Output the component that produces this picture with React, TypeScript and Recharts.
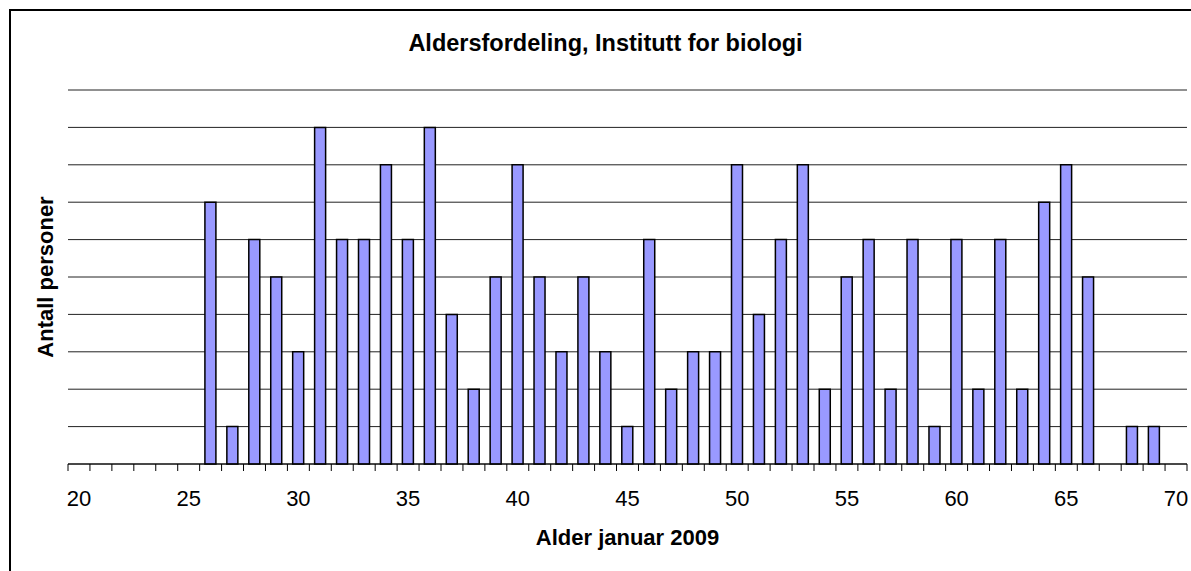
import { Bar, BarChart, CartesianGrid, Label, XAxis, YAxis } from "recharts";

const ages = [
  20, 21, 22, 23, 24, 25, 26, 27, 28, 29, 30, 31, 32, 33, 34, 35, 36, 37, 38, 39, 40, 41, 42, 43, 44, 45,
  46, 47, 48, 49, 50, 51, 52, 53, 54, 55, 56, 57, 58, 59, 60, 61, 62, 63, 64, 65, 66, 67, 68, 69, 70,
];
const persons = [
  0, 0, 0, 0, 0, 0, 7, 1, 6, 5, 3, 9, 6, 6, 8, 6, 9, 4, 2, 5, 8, 5, 3, 5, 3, 1,
  6, 2, 3, 3, 8, 4, 6, 8, 2, 5, 6, 2, 6, 1, 6, 2, 6, 2, 7, 8, 5, 0, 1, 1, 0,
];
const yTicks = [0, 1, 2, 3, 4, 5, 6, 7, 8, 9, 10];
const labelStep = 5;

const data = ages.map((age, i) => ({ age, persons: persons[i] }));

const font = "Arial, 'Liberation Sans', sans-serif";

// Excel-style category axis: tick marks sit between categories, labels every 5th age
function AgeTick(props: any) {
  const { x, y, payload, index, width } = props;
  const band = (width ?? 1119) / ages.length;
  const left = x - band / 2;
  return (
    <g>
      <line x1={left} y1={y} x2={left} y2={y + 7} stroke="#000" strokeWidth={1} />
      {index === ages.length - 1 && (
        <line x1={left + band} y1={y} x2={left + band} y2={y + 7} stroke="#000" strokeWidth={1} />
      )}
      {payload.value % labelStep === 0 && (
        <text x={x} y={y + 42} textAnchor="middle" fontSize={22} fontFamily={font} fill="#000">
          {payload.value}
        </text>
      )}
    </g>
  );
}

// y axis has no visible labels, but the ticks must still exist for the gridlines
function NoTick() {
  return <g />;
}

export default function App() {
  return (
    <div style={{ position: "relative", width: 1191, height: 571, overflow: "hidden", background: "#fff" }}>
      <style>{`body{margin:0;overflow:hidden}`}</style>
      <div
        style={{
          position: "absolute",
          left: 9,
          top: 9,
          width: 1300,
          height: 700,
          border: "2px solid #000",
        }}
      />
      <div
        style={{
          position: "absolute",
          left: 0,
          top: 32,
          width: 1211,
          textAlign: "center",
          fontFamily: font,
          fontSize: 23.5,
          fontWeight: 700,
          lineHeight: "23px",
          color: "#000",
        }}
      >
        Aldersfordeling, Institutt for biologi
      </div>
      <div style={{ position: "absolute", left: 0, top: 0 }}>
        <BarChart
          width={1191}
          height={571}
          data={data}
          margin={{ top: 90, right: 4, left: 0, bottom: 0 }}
          barCategoryGap="24%"
        >
          <CartesianGrid vertical={false} stroke="#222" strokeWidth={1} />
          <XAxis
            dataKey="age"
            interval={0}
            height={107}
            tickSize={0}
            tickMargin={0}
            axisLine={{ stroke: "#000", strokeWidth: 1 }}
            tick={<AgeTick />}
          >
            <Label
              value="Alder januar 2009"
              position="insideBottom"
              offset={26}
              style={{ fontSize: 22, fontWeight: 700, fill: "#000", fontFamily: font }}
            />
          </XAxis>
          <YAxis
            width={68}
            domain={[0, 10]}
            ticks={yTicks}
            interval={0}
            axisLine={false}
            tickLine={false}
            tick={<NoTick />}
          >
            <Label
              value="Antall personer"
              angle={-90}
              position="insideLeft"
              offset={45}
              style={{ textAnchor: "middle", fontSize: 22, fontWeight: 700, fill: "#000", fontFamily: font }}
            />
          </YAxis>
          <Bar dataKey="persons" fill="#9999FF" stroke="#000" strokeWidth={1.5} isAnimationActive={false} />
        </BarChart>
      </div>
    </div>
  );
}
